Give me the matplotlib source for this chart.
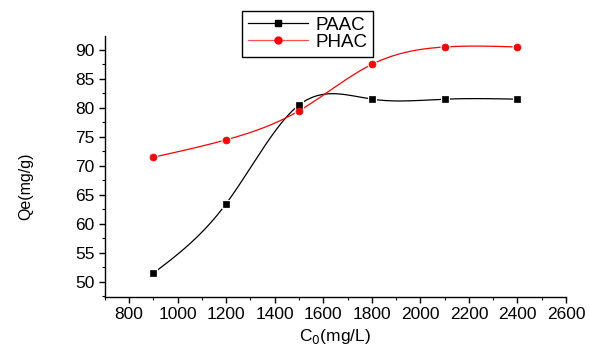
import numpy as np
import matplotlib
matplotlib.use("Agg")
import matplotlib.pyplot as plt

plt.rcParams['font.family'] = ['Liberation Sans', 'DejaVu Sans']

c0 = [900, 1200, 1500, 1800, 2100, 2400]
paac = [51.5, 63.5, 80.5, 81.5, 81.5, 81.5]
phac = [71.5, 74.5, 79.5, 87.5, 90.5, 90.5]


def spline(x, y, n=300):
    # natural cubic spline, like Origin's "Spline" line style
    x = np.asarray(x, float)
    y = np.asarray(y, float)
    k = len(x)
    h = np.diff(x)
    A = np.zeros((k, k))
    b = np.zeros(k)
    A[0, 0] = A[-1, -1] = 1
    for i in range(1, k - 1):
        A[i, i - 1] = h[i - 1]
        A[i, i] = 2 * (h[i - 1] + h[i])
        A[i, i + 1] = h[i]
        b[i] = 3 * ((y[i + 1] - y[i]) / h[i] - (y[i] - y[i - 1]) / h[i - 1])
    c = np.linalg.solve(A, b)
    xs = np.linspace(x[0], x[-1], n)
    idx = np.clip(np.searchsorted(x, xs) - 1, 0, k - 2)
    dx = xs - x[idx]
    bb = (y[idx + 1] - y[idx]) / h[idx] - h[idx] * (2 * c[idx] + c[idx + 1]) / 3
    d = (c[idx + 1] - c[idx]) / (3 * h[idx])
    ys = y[idx] + bb * dx + c[idx] * dx ** 2 + d * dx ** 3
    return xs, ys


fig = plt.figure(figsize=(5.89, 3.49), dpi=100)
ax = fig.add_axes([0.178, 0.149, 0.783, 0.748])

for y, col, mk, ms in [(paac, 'black', 's', 4), (phac, 'red', 'o', 5)]:
    xs, ys = spline(c0, y)
    ax.plot(xs, ys, color=col, lw=0.9, zorder=2)
    ax.plot(c0, y, ls='none', marker=mk, ms=ms, color=col, mec='white', mew=2.2, zorder=3)
    ax.plot(c0, y, ls='none', marker=mk, ms=ms, color=col, mec=col, mew=0.5, zorder=4)

# legend handles
h1, = ax.plot([], [], color='black', lw=0.9, marker='s', ms=4)
h2, = ax.plot([], [], color='#ff5050', lw=0.9, marker='o', mfc='red', mec='red', ms=5)
leg = fig.legend([h1, h2], ['PAAC', 'PHAC'], loc='upper left',
                 bbox_to_anchor=(242 / 589, 1 - 11 / 349), fontsize=13.5,
                 fancybox=False, edgecolor='black', framealpha=1,
                 handlelength=3.2, borderpad=0.3, labelspacing=0.0,
                 handletextpad=0.4, borderaxespad=0)
leg.get_frame().set_linewidth(1)

ax.set_xlim(700, 2600)
ax.set_ylim(47.4, 92.4)
ax.set_xticks(range(800, 2601, 200))
ax.set_xticks(range(700, 2601, 100), minor=True)
ax.set_yticks(range(50, 91, 5))
ax.set_yticks(np.arange(47.5, 92.5, 2.5), minor=True)
for s in ['top', 'right']:
    ax.spines[s].set_visible(False)
ax.spines['left'].set_linewidth(1)
ax.spines['bottom'].set_linewidth(1)
ax.tick_params(which='major', direction='out', length=4.5, width=1, labelsize=12.5, pad=3)
ax.tick_params(which='minor', direction='out', length=2.2, width=0.8)

ax.set_xlabel('C$_0$(mg/L)', fontsize=12.5, labelpad=3)
ax.set_ylabel('Qe(mg/g)', fontsize=11.5)
ax.yaxis.set_label_coords(-0.156, 0.425)

fig.savefig('out.png', dpi=100)
